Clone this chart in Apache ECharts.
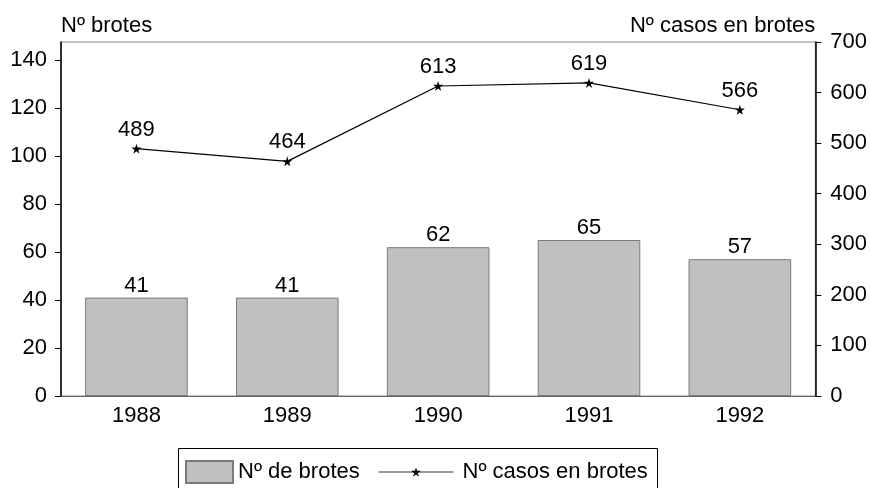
<!DOCTYPE html>
<html><head><meta charset="utf-8">
<script src="https://cdn.jsdelivr.net/npm/echarts@6/dist/echarts.min.js"></script>
<style>html,body{margin:0;padding:0;background:#fff}#c{width:870px;height:488px}</style>
</head><body><div id="c"></div>
<script>
var categories = ['1988','1989','1990','1991','1992'];
var brotes = [41, 41, 62, 65, 57];
var casos = [489, 464, 613, 619, 566];
var leftTicks = [0, 20, 40, 60, 80, 100, 120, 140];
var rightTicks = [0, 100, 200, 300, 400, 500, 600, 700];

var FONT = '"Liberation Sans", Arial, sans-serif';
var FS = 22;
var star = 'path://M100 0 L122 69 L195 69 L136 112 L159 181 L100 138 L41 181 L64 112 L5 69 L78 69 Z';

var chart = echarts.init(document.getElementById('c'), null, {renderer: 'canvas'});
chart.setOption({
  animation: false,
  backgroundColor: '#fff',
  textStyle: {fontFamily: FONT},
  grid: {left: 61, right: 53, top: 42, bottom: 92, show: true, borderColor: '#888', borderWidth: 1},
  xAxis: {
    type: 'category', data: categories,
    axisLine: {lineStyle: {color: '#666', width: 1}},
    axisTick: {show: false},
    axisLabel: {color: '#000', fontSize: FS, fontFamily: FONT, margin: 9}
  },
  yAxis: [{
    type: 'value', min: 0, max: 147.5, position: 'left',
    name: 'Nº brotes', nameLocation: 'end', nameGap: 16,
    nameTextStyle: {color: '#000', fontSize: FS, fontFamily: FONT, align: 'left', verticalAlign: 'middle'},
    splitLine: {show: false},
    axisLine: {show: true, lineStyle: {color: '#000', width: 1.5}},
    axisTick: {show: true, length: 6, customValues: leftTicks, lineStyle: {color: '#000'}},
    axisLabel: {color: '#000', fontSize: FS, fontFamily: FONT, margin: 14, customValues: leftTicks}
  }, {
    type: 'value', min: 0, max: 700, interval: 100, position: 'right',
    name: 'Nº casos en brotes', nameLocation: 'end', nameGap: 16,
    nameTextStyle: {color: '#000', fontSize: FS, fontFamily: FONT, align: 'right', verticalAlign: 'middle'},
    splitLine: {show: false},
    axisLine: {show: true, lineStyle: {color: '#000', width: 1.5}},
    axisTick: {show: true, length: 6, customValues: rightTicks, lineStyle: {color: '#000'}},
    axisLabel: {color: '#000', fontSize: FS, fontFamily: FONT, margin: 15, customValues: rightTicks}
  }],
  legend: [{
    data: [{name: 'Nº de brotes', icon: 'rect'}], left: 180, top: 455, itemWidth: 47, itemHeight: 22, itemGap: 5,
    textStyle: {color: '#000', fontSize: FS, fontFamily: FONT}
  }, {
    data: ['Nº casos en brotes'], left: 373, top: 456, itemWidth: 75, itemHeight: 12, itemGap: 5,
    lineStyle: {width: 1, color: '#333'},
    textStyle: {color: '#000', fontSize: FS, fontFamily: FONT, padding: [0, 0, 0, 4]}
  }],
  graphic: [{
    type: 'rect', shape: {x: 178.5, y: 448.5, width: 479, height: 60},
    style: {fill: 'none', stroke: '#000', lineWidth: 1}, silent: true
  }],
  series: [{
    name: 'Nº de brotes', type: 'bar', yAxisIndex: 0, data: brotes, barWidth: '68%',
    itemStyle: {color: '#c0c0c0', borderColor: '#7a7a7a', borderWidth: 1},
    label: {show: true, position: 'top', distance: 1, color: '#000', fontSize: FS, fontFamily: FONT}
  }, {
    name: 'Nº casos en brotes', type: 'line', yAxisIndex: 1, data: casos,
    symbol: star, symbolSize: 10,
    lineStyle: {color: '#000', width: 1.2},
    itemStyle: {color: '#000'},
    label: {show: true, position: 'top', distance: 3, color: '#000', fontSize: FS, fontFamily: FONT}
  }]
});
</script></body></html>
